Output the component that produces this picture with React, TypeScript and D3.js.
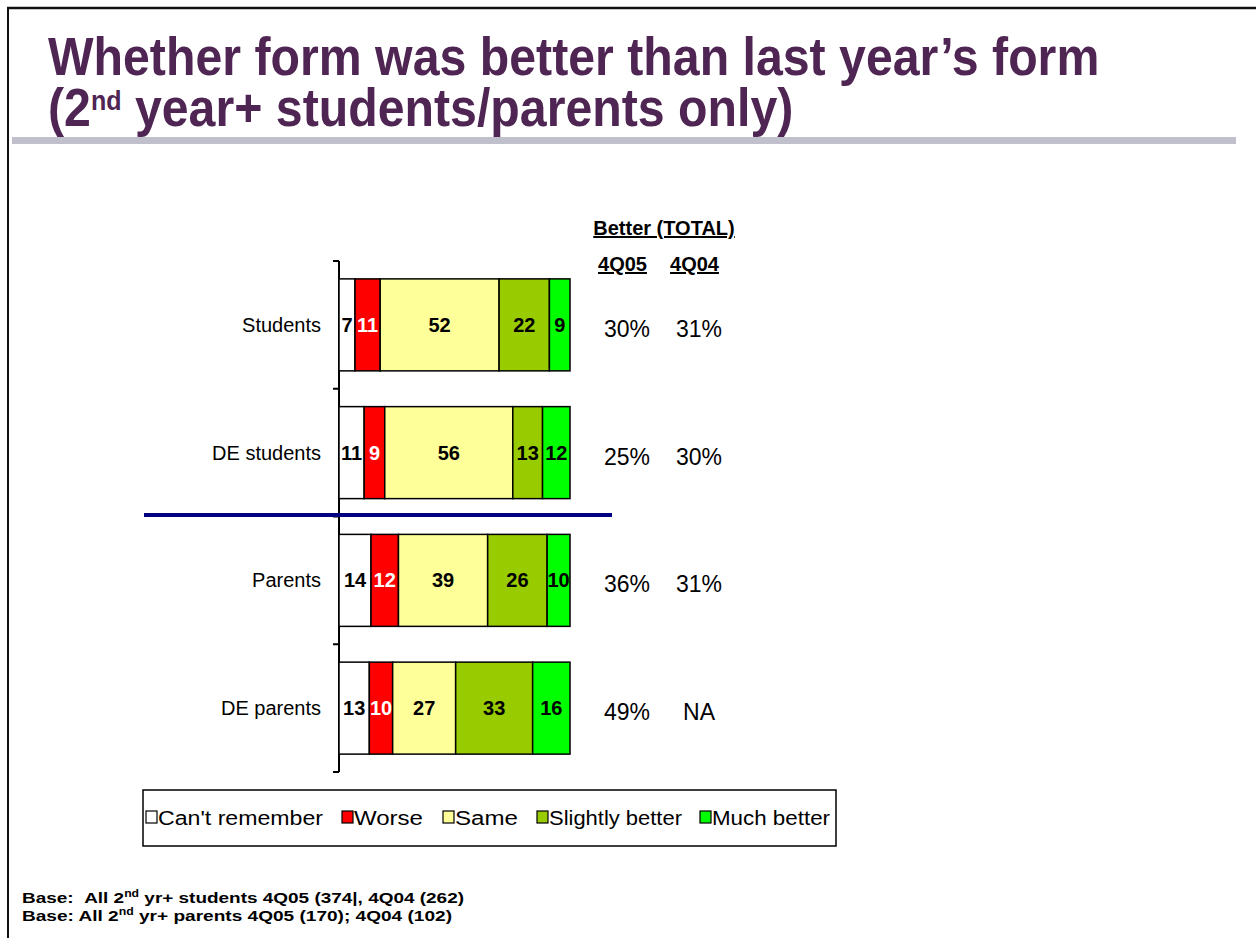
import React from "react";
import * as d3 from "d3";

const categories = ["Students", "DE students", "Parents", "DE parents"];
const seriesNames = ["Can't remember", "Worse", "Same", "Slightly better", "Much better"];
const cantRemember = [7, 11, 14, 13];
const worse = [11, 9, 12, 10];
const same = [52, 56, 39, 27];
const slightlyBetter = [22, 13, 26, 33];
const muchBetter = [9, 12, 10, 16];
const seriesColors = ["#FFFFFF", "#FF0000", "#FFFF99", "#99CC00", "#00FF00"];
const labelColors = ["#000000", "#FFFFFF", "#000000", "#000000", "#000000"];
const better4Q05 = ["30%", "25%", "36%", "49%"];
const better4Q04 = ["31%", "30%", "31%", "NA"];

// legend layout (square left edge, text width)
const legendX = [146, 342, 443, 537, 700];
const legendTextW = [165, 69, 63, 133, 118];

const W = 1256;
const H = 938;
const FONT = "'Liberation Sans', Arial, sans-serif";

export default function App() {
  const series = [cantRemember, worse, same, slightlyBetter, muchBetter];
  const rows = categories.map((c, i) => {
    const vals = series.map((s) => s[i]);
    const total = d3.sum(vals);
    let acc = 0;
    return vals.map((v, k) => {
      const seg = { cat: c, k, v, x0: acc / total, x1: (acc + v) / total };
      acc += v;
      return seg;
    });
  });

  const x = d3.scaleLinear().domain([0, 1]).range([339, 570]);
  const y = d3
    .scaleBand<string>()
    .domain(categories)
    .range([261, 772])
    .paddingInner(0.28)
    .paddingOuter(0.14);
  const step = y.step();
  const [r0, r1] = y.range();
  const tickYs = d3.range(categories.length + 1).map((i) => r0 + i * step);

  return (
    <svg
      width={W}
      height={H}
      style={{ position: "absolute", left: 0, top: 0, background: "#fff" }}
      fontFamily={FONT}
    >
      {/* frame */}
      <line x1={7} y1={8} x2={W} y2={8} stroke="#111" strokeWidth={2.5} />
      <line x1={8} y1={7} x2={8} y2={H} stroke="#111" strokeWidth={2} />

      {/* title */}
      <g transform="translate(48,0) scale(0.894,1)">
        <text fontSize={54} fontWeight="bold" fill="#4E2553">
          <tspan x={0} y={75}>Whether form was better than last year’s form</tspan>
          <tspan x={0} y={126}>(2</tspan>
          <tspan fontSize={28} dy={-16}>nd</tspan>
          <tspan dy={16}> year+ students/parents only)</tspan>
        </text>
      </g>
      <rect x={12} y={137} width={1224} height={7} fill="#C0C0CC" />

      {/* axis */}
      <line x1={339} y1={r0} x2={339} y2={r1} stroke="#000" strokeWidth={2} />
      {tickYs.map((ty, i) => (
        <line key={i} x1={333} y1={ty} x2={339} y2={ty} stroke="#000" strokeWidth={2} />
      ))}

      {/* bars */}
      {rows.map((segs, i) => (
        <g key={categories[i]}>
          {segs.map((s) => (
            <rect
              key={s.k}
              x={x(s.x0)}
              y={y(s.cat)!}
              width={x(s.x1) - x(s.x0)}
              height={y.bandwidth()}
              fill={seriesColors[s.k]}
              stroke="#000"
              strokeWidth={1.5}
            />
          ))}
          {segs.map((s) => (
            <text
              key={"t" + s.k}
              x={(x(s.x0) + x(s.x1)) / 2}
              y={y(s.cat)! + y.bandwidth() / 2 + 7}
              textAnchor="middle"
              fontSize={20}
              fontWeight="bold"
              fill={labelColors[s.k]}
            >
              {s.v}
            </text>
          ))}
          <text
            x={321}
            y={y(categories[i])! + y.bandwidth() / 2 + 7}
            textAnchor="end"
            fontSize={20}
            fill="#000"
          >
            {categories[i]}
          </text>
          <text
            x={627}
            y={y(categories[i])! + y.bandwidth() / 2 + 12}
            textAnchor="middle"
            fontSize={23}
            fill="#000"
          >
            {better4Q05[i]}
          </text>
          <text
            x={699}
            y={y(categories[i])! + y.bandwidth() / 2 + 12}
            textAnchor="middle"
            fontSize={23}
            fill="#000"
          >
            {better4Q04[i]}
          </text>
        </g>
      ))}

      {/* separator */}
      <line x1={144} y1={515} x2={612} y2={515} stroke="#000080" strokeWidth={4} />

      {/* right headers */}
      <text x={664} y={235} textAnchor="middle" fontSize={20} fontWeight="bold" textDecoration="underline">
        Better (TOTAL)
      </text>
      <text x={622.5} y={271} textAnchor="middle" fontSize={20} fontWeight="bold" textDecoration="underline">
        4Q05
      </text>
      <text x={694.5} y={271} textAnchor="middle" fontSize={20} fontWeight="bold" textDecoration="underline">
        4Q04
      </text>

      {/* legend */}
      <rect x={143} y={790} width={693} height={56} fill="#fff" stroke="#000" strokeWidth={1.5} />
      {seriesNames.map((n, k) => (
        <g key={n}>
          <rect x={legendX[k]} y={811} width={11} height={12} fill={seriesColors[k]} stroke="#000" strokeWidth={1.2} />
          <text
            x={legendX[k] + 12}
            y={825}
            fontSize={19.5}
            fill="#000"
            textLength={legendTextW[k]}
            lengthAdjust="spacingAndGlyphs"
          >
            {n}
          </text>
        </g>
      ))}

      {/* footnotes */}
      <text x={22} y={903} fontSize={15.5} fontWeight="bold" textLength={442} lengthAdjust="spacingAndGlyphs">
        Base:{"\u00a0\u00a0"}All 2<tspan fontSize={10} dy={-6}>nd</tspan>
        <tspan dy={6}> yr+ students 4Q05 (374|, 4Q04 (262)</tspan>
      </text>
      <text x={22} y={921} fontSize={15.5} fontWeight="bold" textLength={430} lengthAdjust="spacingAndGlyphs">
        Base: All 2<tspan fontSize={10} dy={-6}>nd</tspan>
        <tspan dy={6}> yr+ parents 4Q05 (170); 4Q04 (102)</tspan>
      </text>
    </svg>
  );
}
